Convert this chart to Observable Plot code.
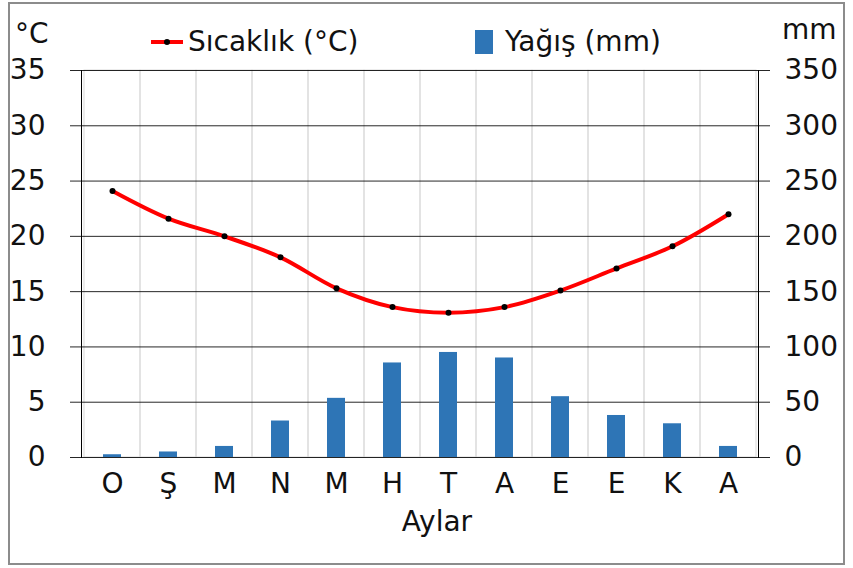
<!DOCTYPE html>
<html>
<head>
<meta charset="utf-8">
<script src="https://cdn.jsdelivr.net/npm/d3@7"></script>
<script src="https://cdn.jsdelivr.net/npm/@observablehq/plot@0.6"></script>
<style>
  body { margin: 0; background: #fff; font-family: "DejaVu Sans", sans-serif; }
  #wrap { position: relative; width: 853px; height: 568px; overflow: hidden; }
  #frame { position: absolute; left: 8px; top: 2px; width: 833px; height: 559px; border: 2px solid #8c8c8c; pointer-events: none; }
  .lbl { position: absolute; font-size: 28px; color: #111; white-space: nowrap; line-height: 1; }
  #chart { position: absolute; left: 0; top: 0; }
</style>
</head>
<body>
<div id="wrap">
  <div id="chart"></div>
  <div class="lbl" style="left:15px; top:20px;">°C</div>
  <div class="lbl" style="left:782px; top:16px;">mm</div>
  <div class="lbl" style="left:150px; top:28px; display:flex; align-items:center;">
    <svg width="34" height="20" style="margin-right:4px"><line x1="1" y1="10" x2="33" y2="10" stroke="#ff0000" stroke-width="4"/><circle cx="17" cy="10" r="3" fill="#000"/></svg>
    <span>Sıcaklık (°C)</span>
  </div>
  <div class="lbl" style="left:475px; top:28px; display:flex; align-items:center;">
    <span style="display:inline-block; width:18px; height:24px; background:#2e75b6; margin-right:12px;"></span>
    <span>Yağış (mm)</span>
  </div>
  <div id="frame"></div>
</div>
<script>
const months = ["O", "Ş", "M", "N", "M", "H", "T", "A", "E", "E", "K", "A"];
const temperature = [24.1, 21.6, 20.0, 18.1, 15.3, 13.6, 13.1, 13.6, 15.1, 17.1, 19.1, 22.0];
const precipitation = [2.5, 5, 10, 33, 53.5, 85.5, 95, 90, 55, 38, 30.5, 10];
const tempTicks = [0, 5, 10, 15, 20, 25, 30, 35];
const xLabel = "Aylar";

const idx = months.map((_, i) => i);
const data = idx.map(i => ({i, month: months[i], t: temperature[i], p: precipitation[i]}));

const font = "DejaVu Sans, sans-serif";

const chart = Plot.plot({
  width: 853,
  height: 568,
  marginLeft: 81,
  marginRight: 95,
  marginTop: 70,
  marginBottom: 111,
  style: {fontFamily: font, fontSize: "28px", color: "#111", background: "transparent"},
  x: {type: "band", domain: idx, padding: 0},
  y: {domain: [0, 35]},
  marks: [
    // light vertical category separators
    Plot.barY(data, {x: "i", y1: 0, y2: 35, fill: "none", stroke: "#d9d9d9", strokeWidth: 1}),
    // horizontal gridlines
    Plot.gridY(tempTicks, {stroke: "#000", strokeOpacity: 0.85, strokeWidth: 1}),
    // precipitation bars (mm mapped onto the °C scale, 10 mm = 1 °C)
    Plot.barY(data, {x: "i", y: d => d.p / 10, fill: "#2e75b6", insetLeft: 19, insetRight: 19}),
    // temperature line
    Plot.line(data, {x: "i", y: "t", stroke: "#ff0000", strokeWidth: 4, curve: "catmull-rom"}),
    Plot.dot(data, {x: "i", y: "t", r: 3, fill: "#000"}),
    // axes
    Plot.axisY(tempTicks, {anchor: "left", tickSize: 11, tickPadding: 25, stroke: "#000", strokeOpacity: 0.85, label: null, fontSize: 28}),
    Plot.axisY(tempTicks, {anchor: "right", tickSize: 11, tickPadding: 15, tickFormat: d => String(d * 10), stroke: "#000", strokeOpacity: 0.85, label: null, fontSize: 28}),
    Plot.axisX(idx, {anchor: "bottom", tickSize: 0, tickPadding: 16, tickFormat: i => months[i], label: null, fontSize: 28}),
    Plot.frame({anchor: "left", stroke: "#000"}),
    Plot.frame({anchor: "right", stroke: "#000"}),
    Plot.text([xLabel], {frameAnchor: "bottom", dx: 17, dy: 73, text: d => d, fontSize: 28, fill: "#111"})
  ]
});
document.getElementById("chart").appendChild(chart);
</script>
</body>
</html>
